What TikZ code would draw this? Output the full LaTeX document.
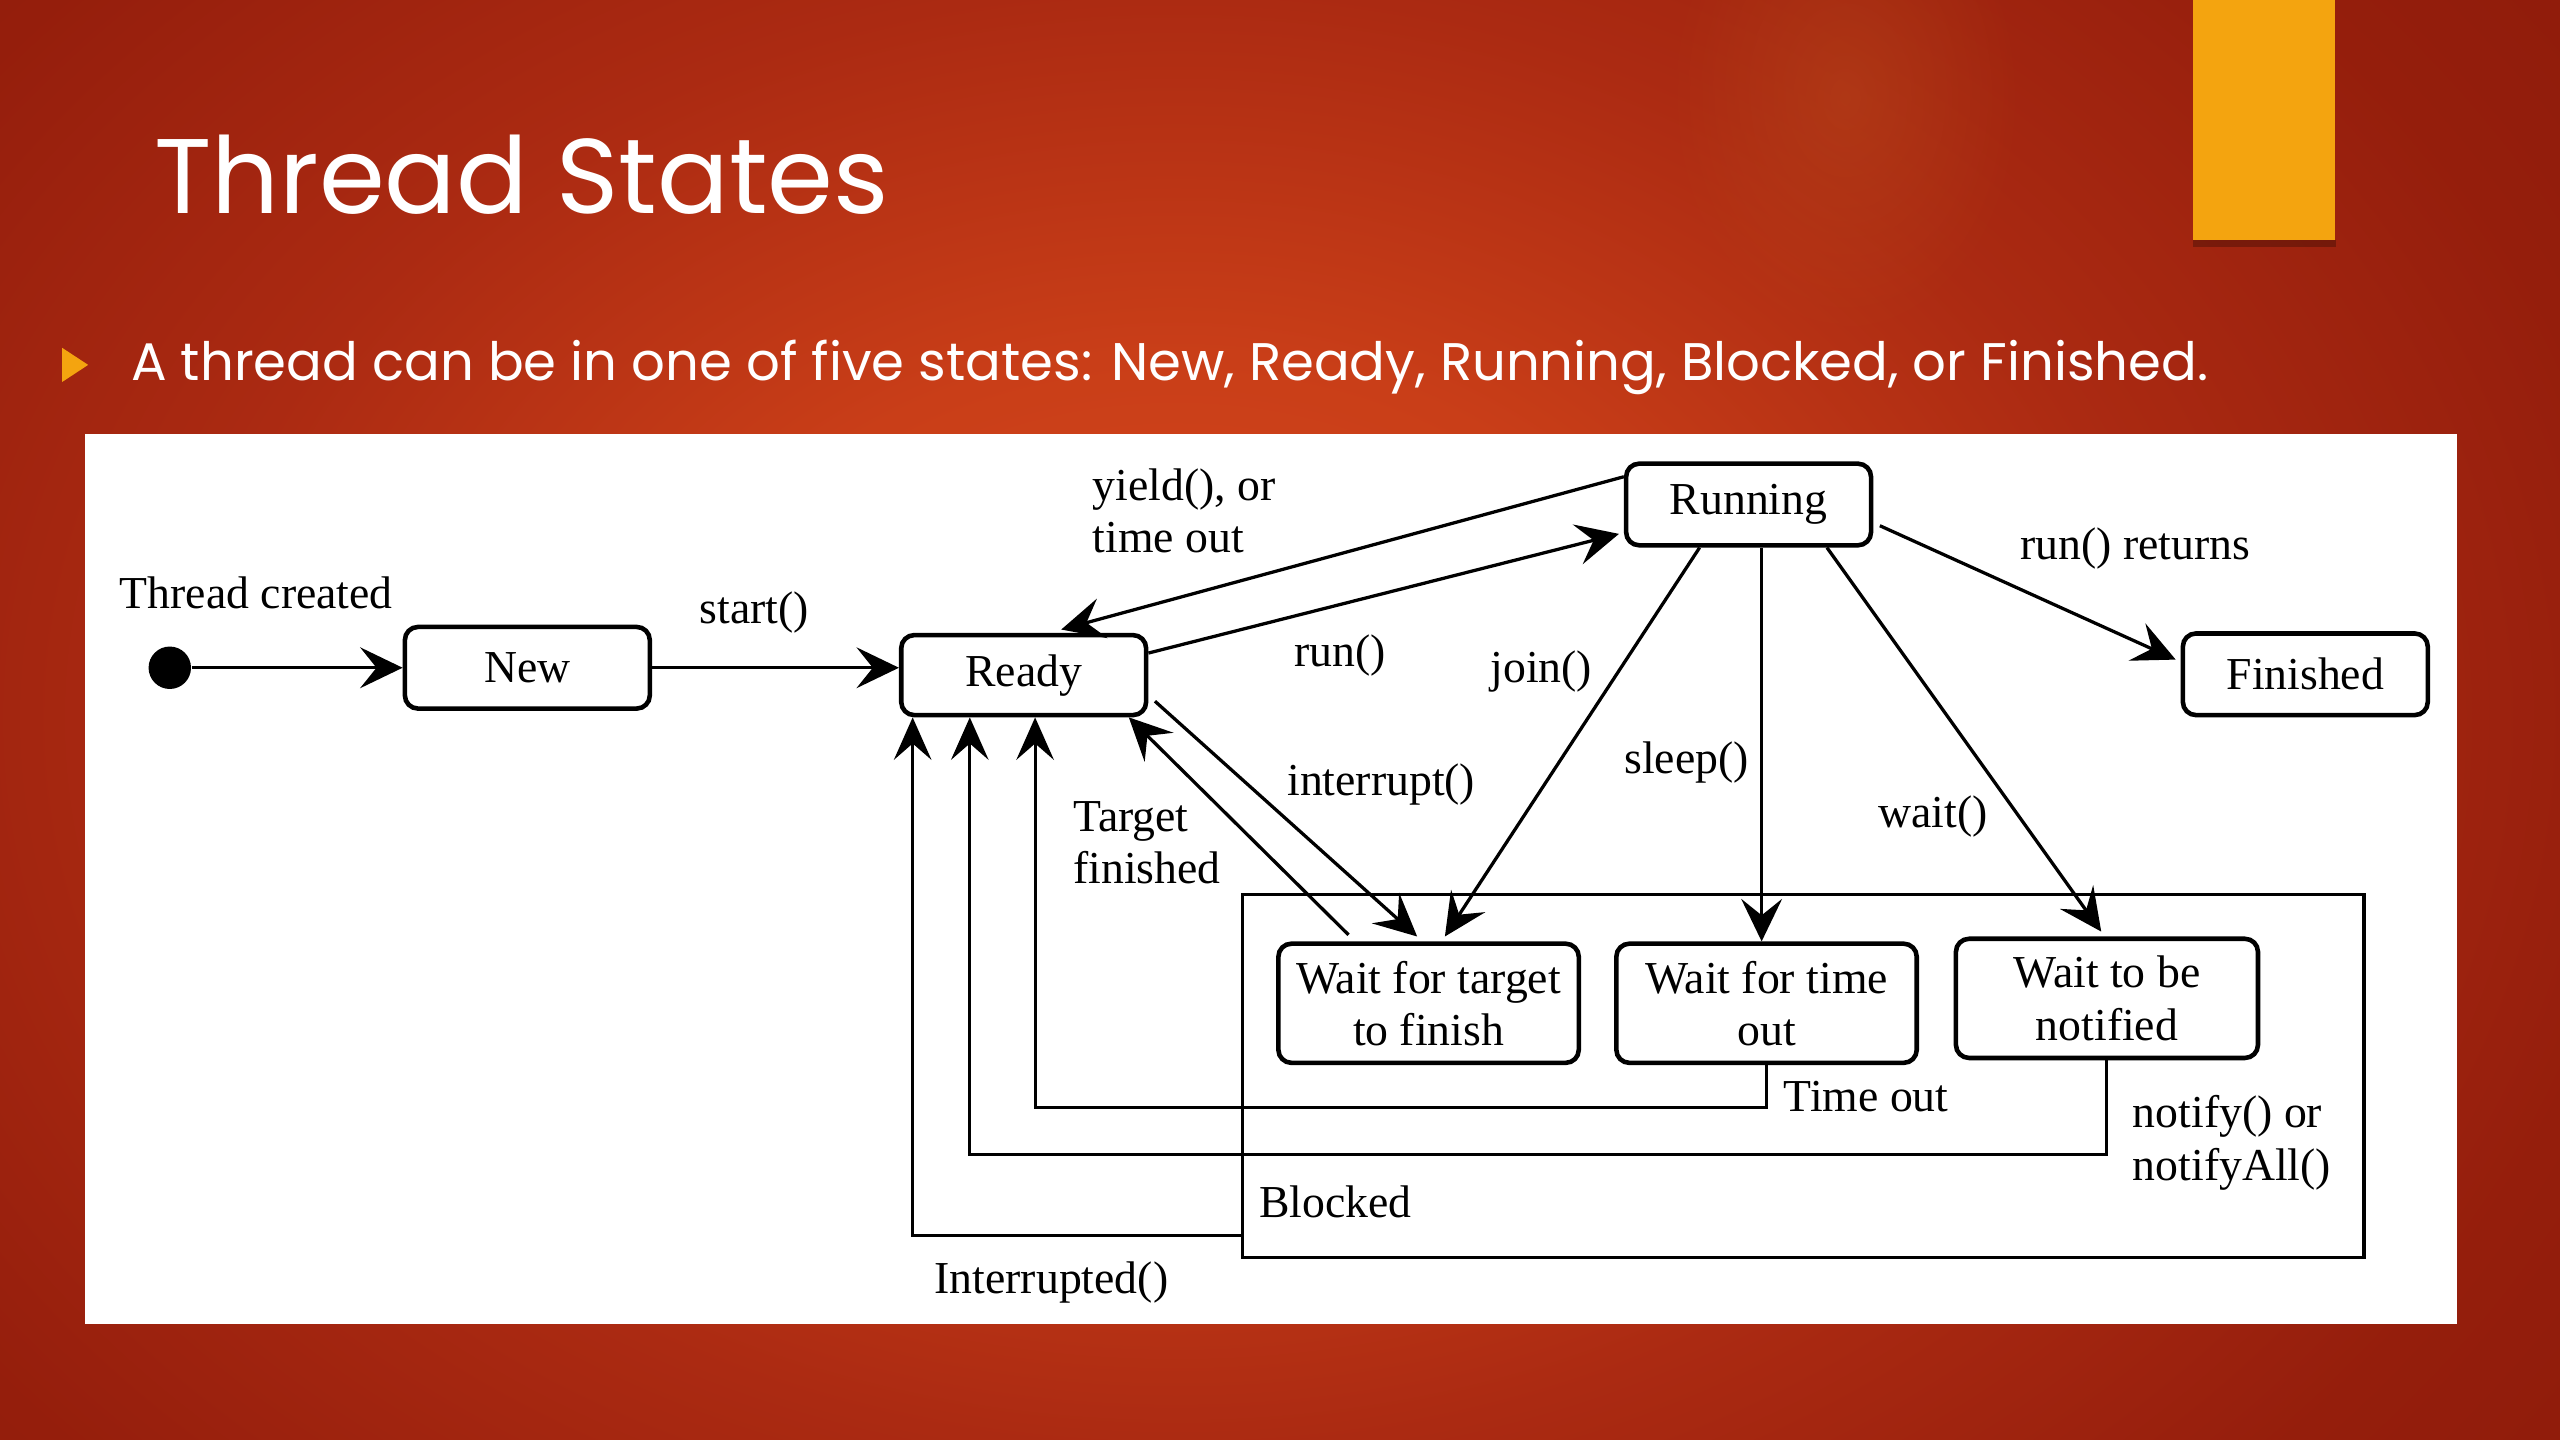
\documentclass[tikz,border=0pt]{standalone}
\usepackage{fontspec}
\setmainfont{Liberation Serif}
\newfontfamily\slidefont{Poppins}
\usetikzlibrary{arrows.meta,calc,fadings}
\tikzfading[name=glowfade, inner color=transparent!0, outer color=transparent!100]
\definecolor{bgA}{HTML}{D6491D}
\definecolor{bgA2}{HTML}{C93E18}
\definecolor{bgB}{HTML}{AB2A12}
\definecolor{bgB2}{HTML}{951E0C}
\definecolor{bgC}{HTML}{89190A}
\definecolor{gold}{HTML}{F4A40F}
\definecolor{glow}{HTML}{C0541E}
\pgfdeclareradialshading{bgshade}{\pgfpoint{0bp}{0bp}}{color(0bp)=(bgA); color(7bp)=(bgA2); color(14bp)=(bgB); color(21bp)=(bgB2); color(29bp)=(bgC); color(50bp)=(bgC)}
\newcommand\diagfont{\fontsize{14}{16}\selectfont}
\begin{document}
\begin{tikzpicture}[x=0.5pt,y=-0.5pt,
  statebox/.style={draw, line width=1.4pt, rounded corners=4pt, minimum width=75pt, minimum height=25pt, inner sep=0pt, align=center, font=\diagfont},
  waitbox/.style={statebox, minimum width=92pt, minimum height=36.5pt},
  arr/.style={line width=1pt, -{Stealth[length=13pt,width=12.5pt,inset=5pt]}},
  thinarr/.style={line width=0.9pt, -{Stealth[length=13pt,width=11.5pt,inset=5pt]}},
  lbl/.style={font=\diagfont, inner sep=0pt, anchor=base},
  mlbl/.style={font=\diagfont, inner sep=0pt, anchor=west, align=left},
]
\useasboundingbox (0,0) rectangle (1568,882);
% background
\fill[bgC] (0,0) rectangle (1568,882);
\begin{scope}
\clip (0,0) rectangle (1568,882);
\fill[shading=bgshade] (720,440) ellipse [x radius=540pt, y radius=400pt];
\fill[glow, fill opacity=0.35, path fading=glowfade] (1130,60) ellipse [x radius=55pt, y radius=75pt];
\end{scope}
% gold bar
\fill[black,opacity=0.25] (1343,147) rectangle (1431,151);
\fill[gold] (1343,0) rectangle (1430,147);
% title and bullet
\node[anchor=base west, text=white, font=\slidefont\fontsize{32.5}{36}\selectfont, inner sep=0pt] (title) at (94,131) {Thread States};
\fill[gold] (38,213) -- (54,223.5) -- (38,234) -- cycle;
\node[anchor=base west, text=white, font=\slidefont\fontsize{16.2}{19}\selectfont, inner sep=0pt] (sub) at (80,233) {A thread can be in one of five states: New, Ready, Running, Blocked, or Finished.};
% panel
\fill[white] (52,266) rectangle (1505,811);

% states
\node[circle, fill=black, minimum size=13pt, inner sep=0pt] (init) at (104,409) {};
\node[statebox] (new) at (323,409) {New};
\node[statebox, minimum height=24.5pt] (ready) at (627,413.5) {Ready};
\node[statebox] (running) at (1071,309) {Running};
\node[statebox] (finished) at (1412,413) {Finished};
\node[draw, line width=1pt, minimum width=343.5pt, minimum height=111pt, inner sep=0pt] (blocked) at (1104.5,659) {};
\node[waitbox] (wtarget) at (875,614.5) {Wait for target\\to finish};
\node[waitbox] (wtime) at (1082,614.5) {Wait for time\\out};
\node[waitbox, minimum width=92.5pt] (wnotify) at (1290.5,611.5) {Wait to be\\notified};

% connectors
\draw[arr] (init.east) -- (new.west);
\draw[arr] (new.east) -- (new.east -| ready.west);
\draw[arr] ([yshift=8.5pt]running.west) -- ([xshift=11.5pt,yshift=1pt]ready.north);
\draw[arr] ([yshift=6.75pt]ready.east) -- ([xshift=-1.5pt,yshift=-9pt]running.west);
\draw[arr] ([xshift=2pt,yshift=-6.5pt]running.east) -- ([xshift=-1.5pt,yshift=4.5pt]finished.west);
\draw[arr] ([xshift=-15pt]running.south) -- ([xshift=5pt,yshift=1.5pt]wtarget.north);
\draw[arr] ([xshift=4pt]running.south) -- ([xshift=4pt]running.south |- wtime.north);
\draw[arr] ([xshift=24pt]running.south) -- ([xshift=-1.75pt,yshift=1.5pt]wnotify.north);
\draw[arr] ([xshift=2pt,yshift=-8pt]ready.east) -- ([xshift=-3.5pt,yshift=1.5pt]wtarget.north);
\draw[arr] ([xshift=-24.5pt,yshift=2pt]wtarget.north) -- ([xshift=-6pt]ready.south east);
\draw[thinarr] (wtime.south) -- ++(0,26) -| ([xshift=3.5pt]ready.south);
\draw[thinarr] (wnotify.south) -- ++(0,58) -| ([xshift=-16.5pt]ready.south);
\draw[thinarr] ([yshift=-49pt]blocked.west) -| ([xshift=-34pt]ready.south);

% labels
\node[lbl] (lcreated) at (157,373) {Thread created};
\node[lbl] (lstart) at (462,382) {start()};
\node[mlbl] (lyield) at (669,313) {yield(), or\\time out};
\node[lbl] (lrun) at (821,408) {run()};
\node[lbl] (lreturns) at (1308,343) {run() returns};
\node[lbl] (ljoin) at (944,418) {join()};
\node[lbl] (linterrupt) at (846,487) {interrupt()};
\node[lbl] (lsleep) at (1033,474) {sleep()};
\node[lbl] (lwait) at (1184,507) {wait()};
\node[mlbl] (ltarget) at (657,516) {Target\\finished};
\node[lbl] (ltimeout) at (1143,681) {Time out};
\node[mlbl] (lnotify) at (1306,700) {notify() or\\notifyAll()};
\node[lbl] (lblocked) at (818,746) {Blocked};
\node[lbl] (linterrupted) at (644,792) {Interrupted()};
\end{tikzpicture}
\end{document}
